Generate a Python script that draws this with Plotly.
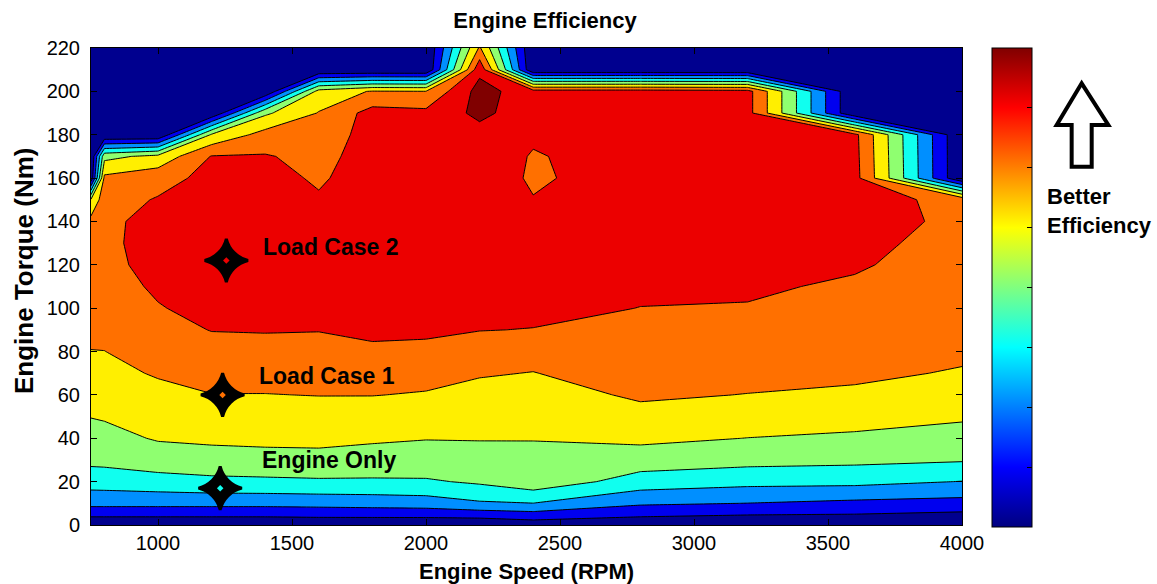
import numpy as np
import plotly.graph_objects as go

# Grid of the efficiency map
speed_rpm = [750, 800, 1000, 1200, 1400, 1600, 1800, 2000, 2200, 2400, 2800, 3200, 3600, 4000]
torque_nm = [0, 10, 20, 30, 40, 50, 60, 70, 80, 90, 100, 110,
             120, 130, 140, 150, 160, 170, 180, 190, 200, 210, 220]

# Brake thermal efficiency (%) per speed, listed from 0 Nm up to 220 Nm
eff_750 = [0.8, 9.3, 13.7, 17.0, 18.6, 20.1, 21.4, 22.7, 23.9, 25.0, 25.8, 26.4,
           26.7, 26.6, 25.2, 20.5, 1.0, 0, 0, 0, 0, 0, 0]
eff_800 = [0.8, 9.3, 13.8, 17.1, 18.9, 20.3, 21.6, 22.8, 23.95, 25.1, 26.0, 26.6,
           27.0, 27.1, 27.0, 26.3, 24.9, 18.8, 0, 0, 0, 0, 0]
eff_1000 = [0.8, 9.3, 14.4, 18.2, 20.3, 21.5, 22.8, 24.4, 25.8, 26.9, 27.8, 28.5,
            29.2, 29.6, 29.5, 28.3, 26.5, 21.2, 0, 0, 0, 0, 0]
eff_1200 = [0.8, 9.3, 15.0, 18.7, 20.6, 22.2, 23.9, 25.5, 26.8, 28.1, 29.0, 29.5,
            29.7, 29.8, 29.8, 29.6, 29.2, 28.2, 20.5, 0, 0, 0, 0]
eff_1400 = [0.8, 9.3, 15.2, 19.0, 20.7, 22.2, 23.9, 25.5, 26.9, 28.2, 29.0, 29.6,
            29.8, 29.9, 29.9, 29.7, 29.3, 28.3, 25.5, 19.3, 0, 0, 0]
eff_1600 = [1.0, 9.5, 15.4, 19.4, 20.5, 22.2, 24.1, 25.6, 27.0, 28.1, 28.9, 29.4,
            29.6, 29.5, 29.0, 28.4, 27.5, 26.8, 26.0, 24.2, 21.5, 0, 0]
eff_1800 = [0.9, 9.8, 15.3, 19.4, 20.2, 22.0, 24.1, 25.8, 27.4, 28.7, 29.3, 29.7,
            29.9, 30.0, 30.0, 30.0, 29.9, 29.7, 29.4, 29.5, 24.3, 0, 0]
eff_2000 = [0.8, 10.1, 15.5, 18.8, 20.1, 21.8, 23.7, 25.4, 27.2, 28.6, 29.4, 29.8,
            30.0, 30.1, 30.2, 30.2, 30.2, 30.1, 29.9, 29.0, 24.1, 0, 0]
eff_2200 = [0.5, 11.5, 16.6, 17.8, 20.3, 21.5, 22.9, 24.3, 26.2, 28.1, 29.1, 29.7,
            30.1, 30.4, 30.6, 30.8, 31.0, 31.2, 30.5, 33.0, 33.5, 31.0, 24.5]
eff_2400 = [1.6, 11.95, 18.6, 19.3, 20.1, 21.2, 22.3, 23.9, 25.3, 27.9, 28.9, 29.4,
            29.6, 29.5, 29.2, 28.2, 27.3, 27.6, 28.8, 29.6, 29.75, 0, 0]
eff_2800 = [1.2, 8.6, 14.2, 18.1, 20.85, 22.7, 24.6, 25.8, 26.7, 27.4, 27.95, 28.6,
            29.2, 29.6, 29.9, 30.2, 30.5, 30.4, 30.2, 30.0, 29.8, 0, 0]
eff_3200 = [0.6, 7.95, 13.2, 17.3, 19.95, 22.0, 23.9, 25.3, 26.4, 27.2, 27.8, 28.5,
            29.1, 29.5, 29.8, 30.0, 30.0, 29.9, 29.7, 29.4, 29.4, 0, 0]
eff_3600 = [0.9, 7.1, 13.1, 16.9, 19.3, 21.6, 23.2, 24.9, 26.0, 26.7, 27.1, 27.5,
            28.4, 29.0, 29.5, 29.5, 29.4, 29.2, 29.0, 0, 0, 0, 0]
eff_4000 = [0.0, 6.6, 11.9, 16.35, 18.5, 20.5, 22.0, 23.6, 24.9, 25.7, 26.0, 26.2,
            26.3, 26.65, 27.2, 26.9, 0, 0, 0, 0, 0, 0, 0]

# Operating points marked on the map
case_names = ["Load Case 2", "Load Case 1", "Engine Only"]
case_speed = [1255, 1241, 1232]
case_torque = [122, 60, 17]
label_speed = [1385, 1368, 1382]
label_torque = [128.3, 68.8, 29.8]
# map colour showing through the centre of each marker
case_hole_color = ["rgb(236,0,0)", "rgb(255,112,0)", "rgb(16,255,239)"]

# Contour levels
level_start, level_end, level_step = 4, 32, 4

efficiency = np.column_stack([
    eff_750, eff_800, eff_1000, eff_1200, eff_1400, eff_1600, eff_1800,
    eff_2000, eff_2200, eff_2400, eff_2800, eff_3200, eff_3600, eff_4000,
])

band_colors = [
    "rgb(0,0,143)", "rgb(0,0,239)", "rgb(0,143,255)", "rgb(16,255,239)",
    "rgb(143,255,112)", "rgb(255,239,0)", "rgb(255,112,0)", "rgb(236,0,0)",
    "rgb(128,0,0)",
]
band_scale = [[i / (len(band_colors) - 1), c] for i, c in enumerate(band_colors)]

jet = [[0.0, "rgb(0,0,128)"], [0.125, "rgb(0,0,255)"], [0.375, "rgb(0,255,255)"],
       [0.625, "rgb(255,255,0)"], [0.875, "rgb(255,0,0)"], [1.0, "rgb(128,0,0)"]]

W, H = 1157, 584
L, R, T, B = 91, 195, 48, 59
PW, PH = W - L - R, H - T - B


def px_to_paper(px, py):
    return (px - L) / PW, (H - B - py) / PH


FONT = "Liberation Sans, Arial, Helvetica, sans-serif"

fig = go.Figure()

fig.add_trace(go.Contour(
    x=speed_rpm, y=torque_nm, z=efficiency,
    autocontour=False,
    contours=dict(start=level_start, end=level_end, size=level_step,
                  coloring="fill", showlines=True),
    line=dict(color="black", width=1, smoothing=0),
    colorscale=band_scale, showscale=False, hoverinfo="skip",
))

# four-point star markers with a small see-through centre
fig.add_trace(go.Scatter(
    x=case_speed, y=case_torque, mode="markers",
    marker=dict(symbol="star-diamond", size=31, color="black",
                line=dict(color="black", width=3)),
    showlegend=False, hoverinfo="skip",
))
fig.add_trace(go.Scatter(
    x=case_speed, y=case_torque, mode="markers",
    marker=dict(symbol="diamond", size=5, color=case_hole_color,
                line=dict(width=0)),
    showlegend=False, hoverinfo="skip",
))

# continuous jet colour bar
cb_x, _ = px_to_paper(992, 0)
fig.add_trace(go.Scatter(
    x=[None], y=[None], mode="markers",
    marker=dict(color=[0], cmin=0, cmax=1, colorscale=jet, showscale=True,
                colorbar=dict(x=cb_x, xanchor="left", y=0.498, yanchor="middle",
                              len=1.004, lenmode="fraction",
                              thickness=40, thicknessmode="pixels",
                              xpad=0, ypad=0, outlinewidth=1, outlinecolor="black",
                              tickmode="array",
                              tickvals=[k / 8 for k in range(1, 8)],
                              ticks="inside", ticklen=5, tickcolor="black",
                              showticklabels=False)),
    showlegend=False, hoverinfo="skip",
))

annotations = []
for name, sx, ty in zip(case_names, label_speed, label_torque):
    annotations.append(dict(x=sx, y=ty, xref="x", yref="y", text="<b>%s</b>" % name,
                            showarrow=False, xanchor="left", yanchor="middle",
                            font=dict(family=FONT, size=23, color="black")))

bx, by = px_to_paper(1045, 182)
annotations.append(dict(x=bx, y=by, xref="paper", yref="paper",
                        text="<b>Better</b><br><b>Efficiency</b>", align="left",
                        showarrow=False, xanchor="left", yanchor="top",
                        font=dict(family=FONT, size=22, color="black")))

# axis titles
xt_x, xt_y = px_to_paper(526, 571)
annotations.append(dict(x=xt_x, y=xt_y, xref="paper", yref="paper",
                        text="<b>Engine Speed (RPM)</b>", showarrow=False,
                        xanchor="center", yanchor="middle",
                        font=dict(family=FONT, size=22, color="black")))
yt_x, yt_y = px_to_paper(24, 271)
annotations.append(dict(x=yt_x, y=yt_y, xref="paper", yref="paper",
                        text="<b>Engine Torque (Nm)</b>", showarrow=False,
                        textangle=-90, xanchor="center", yanchor="middle",
                        font=dict(family=FONT, size=26, color="black")))

# hollow block arrow next to the colour bar
arrow_px = [(1081.7, 83.3), (1108.3, 125), (1091.7, 125), (1091.7, 166.7),
            (1071.7, 166.7), (1071.7, 125), (1056.7, 125)]
pts = [px_to_paper(a, b) for a, b in arrow_px]
path = "M " + " L ".join("%.4f,%.4f" % p for p in pts) + " Z"

fig.update_layout(
    width=W, height=H,
    margin=dict(l=L, r=R, t=T, b=B, pad=0),
    paper_bgcolor="white", plot_bgcolor="white",
    font=dict(family=FONT, size=20, color="black"),
    title=dict(text="<b>Engine Efficiency</b>", x=px_to_paper(545, 0)[0], xref="paper",
               xanchor="center", y=1 - 20 / H, yref="container", yanchor="middle",
               font=dict(family=FONT, size=22, color="black")),
    xaxis=dict(range=[750, 4000], tickmode="array",
               tickvals=[1000, 1500, 2000, 2500, 3000, 3500, 4000],
               ticks="inside", ticklen=6, tickcolor="black", showline=True,
               linecolor="black", linewidth=1, mirror="ticks", showgrid=False,
               zeroline=False, ticklabelstandoff=0, automargin=False),
    yaxis=dict(range=[0, 220], tickmode="array", tickvals=list(range(0, 221, 20)),
               ticks="inside", ticklen=6, tickcolor="black", showline=True,
               linecolor="black", linewidth=1, mirror="ticks", showgrid=False,
               zeroline=False, ticklabelstandoff=6, automargin=False),
    shapes=[dict(type="path", path=path, xref="paper", yref="paper",
                 line=dict(color="black", width=4), fillcolor="rgba(0,0,0,0)")],
    annotations=annotations,
    showlegend=False,
)

fig.write_html("out.html")
